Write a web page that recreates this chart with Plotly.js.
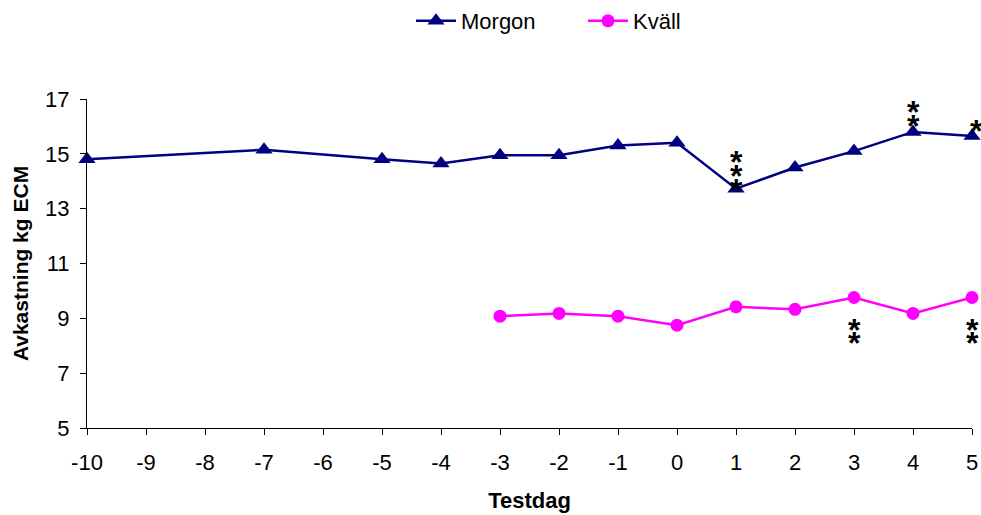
<!DOCTYPE html>
<html>
<head>
<meta charset="utf-8">
<script src="https://cdn.plot.ly/plotly-3.0.1.min.js"></script>
<style>html,body{margin:0;padding:0;background:#fff;}#chart{width:981px;height:515px;}</style>
</head>
<body>
<div id="chart"></div>
<script>
// Data
const morgonDays = [-10, -7, -5, -4, -3, -2, -1, 0, 1, 2, 3, 4, 5];
const morgonValues = [14.8, 15.15, 14.8, 14.65, 14.95, 14.95, 15.3, 15.4, 13.73, 14.5, 15.1, 15.8, 15.65];
const morgonSig = ["", "", "", "", "", "", "", "", "***", "", "", "**", "*"];

const kvallDays = [-3, -2, -1, 0, 1, 2, 3, 4, 5];
const kvallValues = [9.08, 9.18, 9.08, 8.75, 9.42, 9.33, 9.76, 9.18, 9.76];
const kvallSig = ["", "", "", "", "", "", "**", "", "**"];

const xTicks = [-10, -9, -8, -7, -6, -5, -4, -3, -2, -1, 0, 1, 2, 3, 4, 5];
const yTicks = [5, 7, 9, 11, 13, 15, 17];

const FONT = "Arial, 'Liberation Sans', sans-serif";

const traces = [
  {
    x: morgonDays, y: morgonValues, name: "Morgon", type: "scatter", mode: "lines+markers",
    line: {color: "#000080", width: 2.5},
    marker: {symbol: "triangle-up", size: 15, color: "#000080"},
    cliponaxis: false
  },
  {
    x: kvallDays, y: kvallValues, name: "Kväll", type: "scatter", mode: "lines+markers",
    line: {color: "#FF00FF", width: 2.5},
    marker: {symbol: "circle", size: 13, color: "#FF00FF"},
    cliponaxis: false
  }
];

// significance asterisks, stacked one by one
const annotations = [];
const GLYPH_CORR = -4; // asterisk glyph sits high in its text box
function addStars(days, values, sig, above) {
  sig.forEach((s, i) => {
    const n = s.length;
    for (let k = 0; k < n; k++) {
      let shift;
      if (above) {
        const base = n === 1 ? 9 : 17 - 7 * (n - 1);
        shift = base + 14 * k;
      } else {
        shift = -(28 + 13.5 * k);
      }
      annotations.push({
        x: days[i], y: values[i], xref: "x", yref: "y",
        text: "<b>*</b>", showarrow: false,
        xshift: (above && n === 1) ? 4 : 0,
        yshift: shift + GLYPH_CORR,
        font: {family: FONT, size: 32, color: "#000"}
      });
    }
  });
}
addStars(morgonDays, morgonValues, morgonSig, true);
addStars(kvallDays, kvallValues, kvallSig, false);

const layout = {
  width: 981, height: 515,
  margin: {l: 87, r: 9, t: 99, b: 87},
  paper_bgcolor: "#fff", plot_bgcolor: "#fff",
  font: {family: FONT, size: 21, color: "#000"},
  showlegend: true,
  legend: {
    orientation: "h", x: 411 / 981, xanchor: "left", xref: "container",
    y: 1, yanchor: "top", yref: "container",
    font: {family: FONT, size: 22, color: "#000"},
    itemwidth: 40, entrywidth: 117, entrywidthmode: "pixels",
    tracegroupgap: 0, bgcolor: "rgba(0,0,0,0)"
  },
  xaxis: {
    range: [-10, 5], tickvals: xTicks, ticktext: xTicks.map(String),
    showgrid: false, zeroline: false, showline: true, linecolor: "#000", linewidth: 1,
    ticks: "outside", ticklen: 6, tickcolor: "#000", ticklabelstandoff: 9,
    tickfont: {family: FONT, size: 22, color: "#000"},
    title: {text: "<b>Testdag</b>", font: {family: FONT, size: 22, color: "#000"}, standoff: 18},
    automargin: false
  },
  yaxis: {
    range: [5, 17], tickvals: yTicks, ticktext: yTicks.map(String),
    showgrid: false, zeroline: false, showline: true, linecolor: "#000", linewidth: 1,
    ticks: "outside", ticklen: 6, tickcolor: "#000", ticklabelstandoff: 6,
    tickfont: {family: FONT, size: 22, color: "#000"},
    title: {text: "<b>Avkastning kg ECM</b>", font: {family: FONT, size: 21, color: "#000"}, standoff: 10},
    automargin: false
  },
  annotations: annotations
};

Plotly.newPlot("chart", traces, layout, {displayModeBar: false, staticPlot: true});
</script>
</body>
</html>
